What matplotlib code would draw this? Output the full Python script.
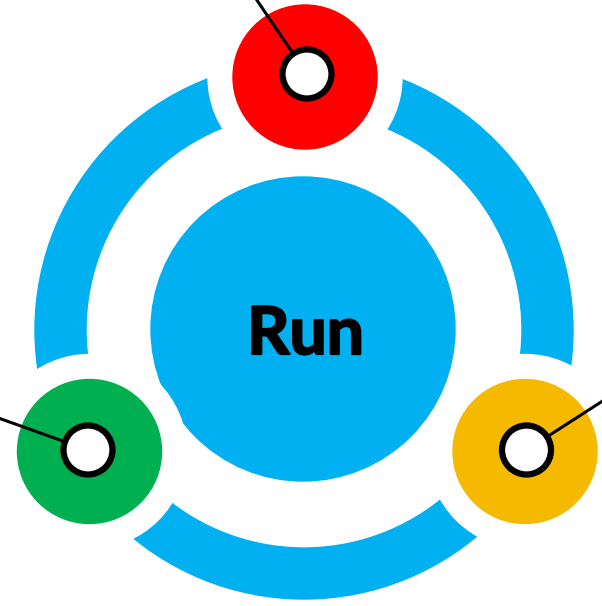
import matplotlib
matplotlib.use("Agg")
import matplotlib.pyplot as plt
import matplotlib.patheffects as pe
from matplotlib.patches import Circle, Wedge

# the three nodes sitting on the ring
node_names = ["top", "left", "right"]
node_colors = ["#FF0000", "#00B050", "#F5B900"]
centre_label = "Run"
ring_color = "#00B0F0"

# geometry (pixel space, y goes down)
ring_c = (304, 330)
node_xy = [(305, 77), (89.5, 451.5), (525, 451.5)]
dot_xy = [(307, 74), (88, 450), (526.5, 450)]
line_end = [(250, -10), (-10, 415), (612, 395)]


def draw_node(ax, xy, dot, end, color):
    # white gap cut into the ring, then the coloured disc
    ax.add_patch(Circle(xy, 97, color="white", zorder=3))
    ax.add_patch(Circle(xy, 72, color=color, zorder=4))
    ax.plot([dot[0], end[0]], [dot[1], end[1]], color="black", lw=2.2,
            zorder=5, solid_capstyle="butt")
    ax.add_patch(Circle(dot, 24.5, facecolor="white", edgecolor="black",
                        lw=4.5, zorder=6))


def main():
    fig = plt.figure(figsize=(6.02, 6.06), dpi=100)
    ax = fig.add_axes([0, 0, 1, 1])
    ax.set_xlim(0, 602)
    ax.set_ylim(606, 0)
    ax.set_aspect("equal")
    ax.axis("off")

    # outer ring and centre disc
    ax.add_patch(Wedge(ring_c, 269, 0, 360, width=51, color=ring_color, zorder=1))
    ax.add_patch(Circle((303, 329), 152, color=ring_color, zorder=2))

    for i in range(len(node_names)):
        draw_node(ax, node_xy[i], dot_xy[i], line_end[i], node_colors[i])

    # label, stroked a bit to get the heavier look
    ax.text(305.5, 354, centre_label, ha="center", va="baseline",
            fontsize=47.5, fontweight="bold", family=["Lato", "DejaVu Sans"],
            color="black", zorder=7,
            path_effects=[pe.withStroke(linewidth=1.6, foreground="black")])

    fig.savefig("out.png", dpi=100)


main()
